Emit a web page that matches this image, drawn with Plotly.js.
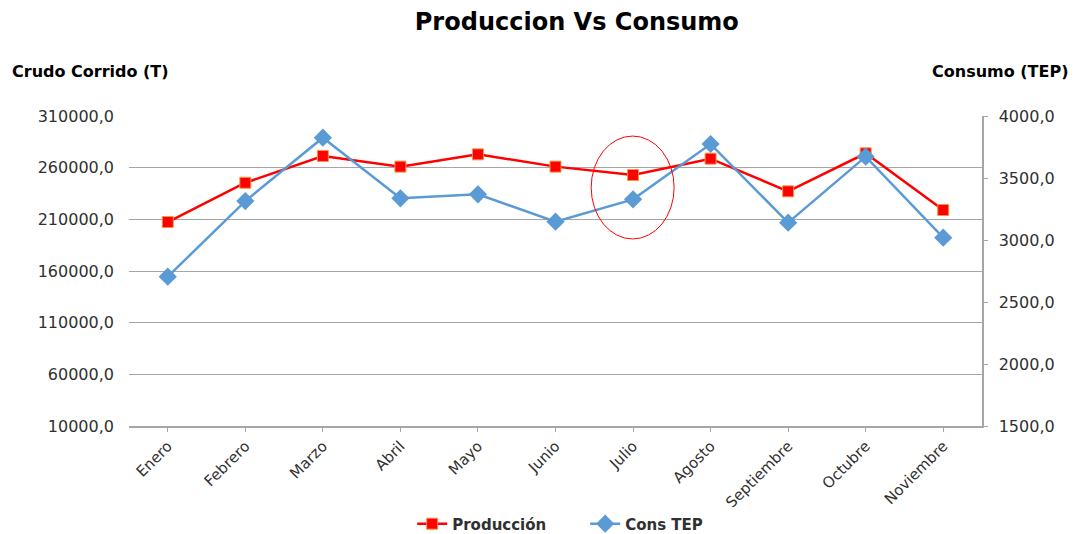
<!DOCTYPE html>
<html>
<head>
<meta charset="utf-8">
<script src="https://cdn.plot.ly/plotly-3.0.1.min.js"></script>
<style>html,body{margin:0;padding:0;background:#fff;}#chart{width:1075px;height:534px;}</style>
</head>
<body>
<div id="chart"></div>
<script>
const months = ["Enero","Febrero","Marzo","Abril","Mayo","Junio","Julio","Agosto","Septiembre","Octubre","Noviembre"];
const produccion = [207400, 245400, 271300, 261000, 272900, 261000, 252900, 268700, 237100, 273900, 219000];
const consTEP = [2704, 3314, 3825, 3336, 3368, 3148, 3328, 3774, 3140, 3672, 3019];
const leftTicks = [10000, 60000, 110000, 160000, 210000, 260000, 310000];
const rightTicks = [1500, 2000, 2500, 3000, 3500, 4000];
const highlightMonth = "Julio";
const highlightRange = [191000, 290600];

const font = "DejaVu Sans, Liberation Sans, Arial, sans-serif";
const hi = months.indexOf(highlightMonth);

const traces = [
  {
    x: months, y: produccion, name: "Producción", type: "scatter", mode: "lines+markers",
    line: {color: "#FF0000", width: 2.5},
    marker: {symbol: "square", size: 11, color: "#FF0000", line: {color: "#F79646", width: 1}},
    yaxis: "y"
  },
  {
    x: months, y: consTEP, name: "Cons TEP", type: "scatter", mode: "lines+markers",
    line: {color: "#5B9BD5", width: 2.5},
    marker: {symbol: "diamond", size: 14, color: "#5B9BD5"},
    yaxis: "y2"
  }
];

const layout = {
  width: 1075, height: 534,
  margin: {l: 129, r: 93, t: 116, b: 108, autoexpand: false},
  paper_bgcolor: "#fff", plot_bgcolor: "#fff",
  separators: ",.",
  font: {family: font, color: "#303030", size: 14},
  title: {text: "<b>Produccion Vs Consumo</b>", font: {family: font, size: 24, color: "#000"},
          x: 0.525, xref: "paper", xanchor: "center", y: 0.959, yref: "container", yanchor: "middle"},
  xaxis: {
    type: "category", range: [-0.5, months.length - 0.5],
    showgrid: false, showline: true, linecolor: "#A6A6A6", linewidth: 1.5,
    ticks: "outside", ticklen: 4, tickcolor: "#A6A6A6",
    tickangle: -45, tickfont: {family: font, size: 15, color: "#303030"},
    zeroline: false, fixedrange: true
  },
  yaxis: {
    range: [10000, 310000], tickvals: leftTicks, tickformat: ".1f",
    showgrid: true, gridcolor: "#A6A6A6", gridwidth: 1,
    showline: false, ticks: "", zeroline: false,
    tickfont: {family: font, size: 16, color: "#303030"}, ticklabelstandoff: 14
  },
  yaxis2: {
    overlaying: "y", side: "right",
    range: [1500, 4000], tickvals: rightTicks, tickformat: ".1f",
    showgrid: false, showline: true, linecolor: "#A6A6A6", linewidth: 1.5,
    ticks: "outside", ticklen: 4, tickcolor: "#A6A6A6", zeroline: false,
    tickfont: {family: font, size: 16, color: "#303030"}, ticklabelstandoff: 8
  },
  showlegend: true,
  legend: {orientation: "h", x: 0.332, xanchor: "left", y: -0.316, yanchor: "middle",
           entrywidth: 128, itemwidth: 30,
           font: {family: font, size: 15, color: "#303030", weight: "bold"}},
  annotations: [
    {text: "<b>Crudo Corrido (T)</b>", xref: "paper", yref: "paper", x: -0.1395, xanchor: "left",
     y: 1.142, yanchor: "middle", showarrow: false, font: {family: font, size: 16, color: "#000"}},
    {text: "<b>Consumo (TEP)</b>", xref: "paper", yref: "paper", x: 1.103, xanchor: "right",
     y: 1.142, yanchor: "middle", showarrow: false, font: {family: font, size: 16, color: "#000"}}
  ],
  shapes: [
    {type: "circle", xref: "x", yref: "y", x0: hi - 0.54, x1: hi + 0.53,
     y0: highlightRange[0], y1: highlightRange[1], line: {color: "#FF0000", width: 1}}
  ]
};

Plotly.newPlot("chart", traces, layout, {displayModeBar: false, staticPlot: true});
</script>
</body>
</html>
